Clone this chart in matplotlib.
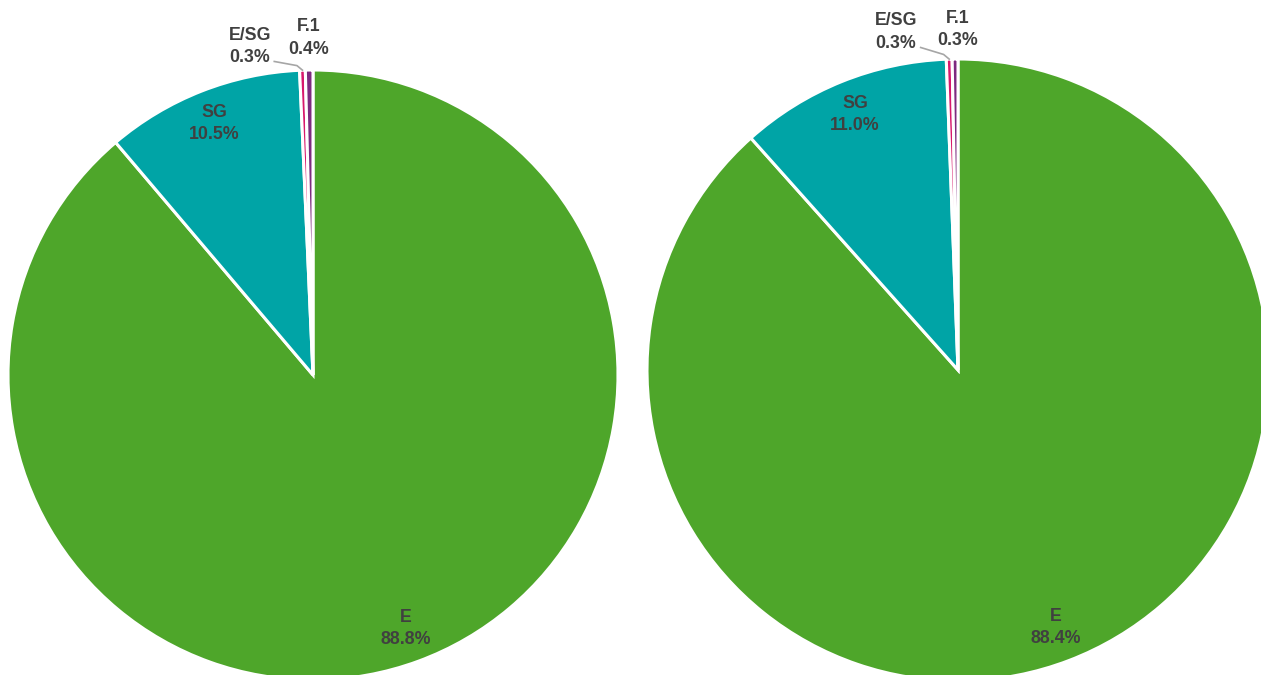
import matplotlib.pyplot as plt
import numpy as np

# data
categories = ['E', 'SG', 'E/SG', 'F.1']
left_values = [88.8, 10.5, 0.3, 0.4]
right_values = [88.4, 11.0, 0.3, 0.3]
colors = ['#4ea62a', '#00a4a6', '#d8186c', '#7d2a7f']

plt.rcParams['font.family'] = ['Liberation Sans', 'DejaVu Sans']
TEXT_COLOR = '#404040'
W, H = 1261, 675


def draw_pie(fig, values, cx, cy, r, small_pos):
    """Draws one pie whose circle is centred on (cx, cy) pixels with radius r."""
    ax = fig.add_axes([(cx - r) / W, (H - cy - r) / H, 2 * r / W, 2 * r / H])
    wedges, _ = ax.pie(values, colors=colors, startangle=90, counterclock=False,
                       wedgeprops=dict(edgecolor='white', linewidth=2.2))
    ax.set_xlim(-1, 1)
    ax.set_ylim(-1, 1)
    ax.set_aspect('equal')
    ax.axis('off')

    for w, name, val in zip(wedges, categories, values):
        mid = np.deg2rad((w.theta1 + w.theta2) / 2)
        label = f'{name}\n{val:.1f}%'
        if val > 5:
            # labels inside the big slices
            ax.text(0.885 * np.cos(mid), 0.885 * np.sin(mid), label,
                    ha='center', va='center', fontsize=12.8, fontweight='bold',
                    color=TEXT_COLOR, linespacing=1.4)
        else:
            tx, ty = small_pos[name]
            ax.text(tx, ty, label, ha='center', va='center', fontsize=12.8,
                    fontweight='bold', color=TEXT_COLOR, linespacing=1.4,
                    clip_on=False)
            if name == 'E/SG':
                ex, ey = np.cos(mid), np.sin(mid)
                ax.plot([ex, ex - 0.018, tx + 0.08], [ey, ey + 0.015, ty - 0.05],
                        color='#a6a6a6', linewidth=1.2, clip_on=False,
                        solid_joinstyle='round')
    return ax


fig = plt.figure(figsize=(W / 100, H / 100), dpi=100)

draw_pie(fig, left_values, 313, 375, 305,
         {'E/SG': (-0.207, 1.078), 'F.1': (-0.015, 1.105)})
draw_pie(fig, right_values, 958, 370, 311,
         {'E/SG': (-0.200, 1.087), 'F.1': (0.0, 1.096)})

plt.savefig('out.png', dpi=100, facecolor='white')
